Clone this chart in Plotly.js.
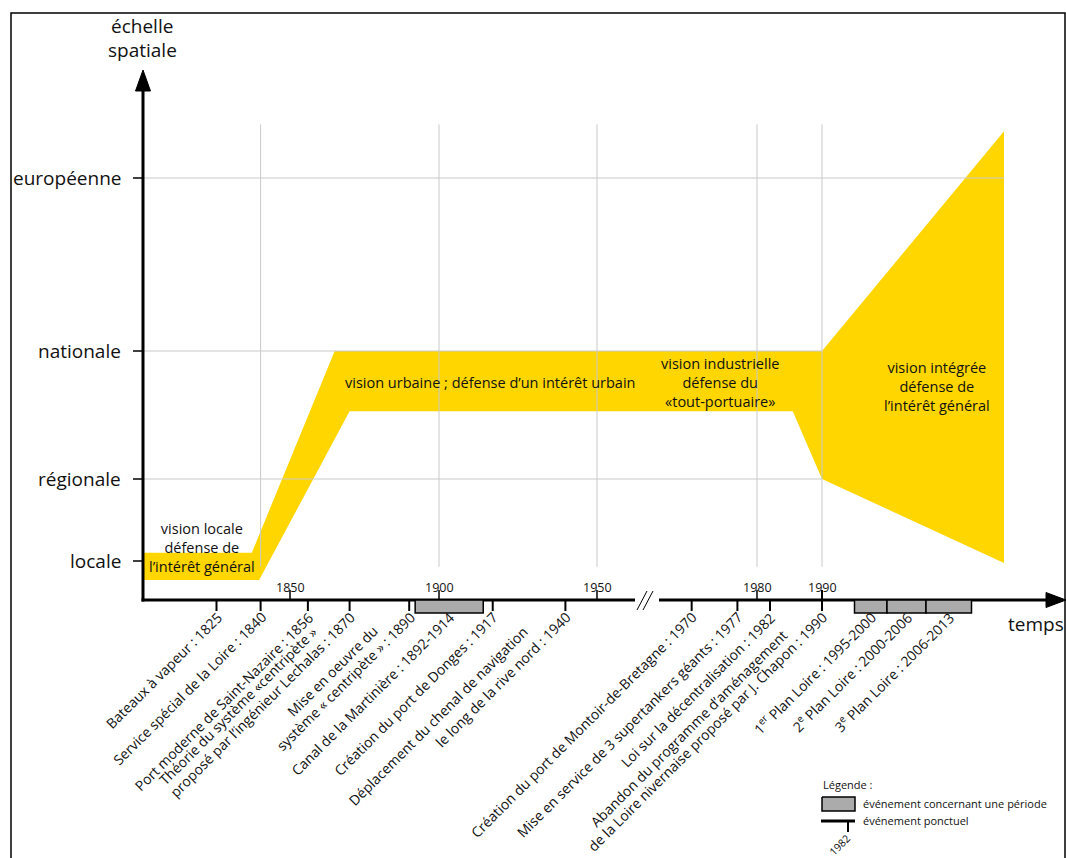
<!DOCTYPE html>
<html>
<head>
<meta charset="utf-8">
<script src="https://cdn.plot.ly/plotly-3.0.1.min.js"></script>
<style>
html,body{margin:0;padding:0;background:#fff;}
#chart{width:1066px;height:858px;}
</style>
</head>
<body>
<div id="chart"></div>
<script>
// ---------------- DATA ----------------
const levelNames = ["locale", "régionale", "nationale", "européenne"];
const levelValues = [1, 2, 3, 4];

const axisYears = [1850, 1900, 1950, 1980, 1990];
const gridYears = [1840, 1900, 1950, 1980, 1990];

// vision band outline (year, spatial level)
const bandYears  = [1800, 1837, 1865, 1990, 2018, 2018, 1990, 1985.5, 1870, 1839.5, 1800];
const bandLevels = [1.1, 1.1, 3.0, 3.0, 4.27, 0.95, 2.0, 2.53, 2.53, 0.51, 0.51];

const bandTexts = [
  "vision locale<br>défense de<br>l’intérêt général",
  "vision urbaine ; défense d’un intérêt urbain",
  "vision industrielle<br>défense du<br>«tout-portuaire»",
  "vision intégrée<br>défense de<br>l’intérêt général"
];

// point events
const eventYears = [1825, 1840, 1856, 1870, 1890, 1917, 1940, 1970, 1977, 1982, 1990];
const eventLabels = [
  ["Bateaux à vapeur : 1825"],
  ["Service spécial de la Loire : 1840"],
  ["Port moderne de Saint-Nazaire : 1856"],
  ["Théorie du système «centripète »", "proposé par l’ingénieur Lechalas : 1870"],
  ["Mise en oeuvre du", "système « centripète » : 1890"],
  ["Création du port de Donges : 1917"],
  ["Déplacement du chenal de navigation", "le long de la rive nord : 1940"],
  ["Création du port de Montoir-de-Bretagne : 1970"],
  ["Mise en service de 3 supertankers géants : 1977"],
  ["Loi sur la décentralisation : 1982"],
  ["Abandon du programme d’aménagement", "de la Loire nivernaise proposé par J. Chapon : 1990"]
];

// period events
const periodStart = [1892, 1995, 2000, 2006];
const periodEnd   = [1914, 2000, 2006, 2013];
const periodLabels = [
  ["Canal de la Martinière : 1892-1914"],
  ["1<sup>er</sup> Plan Loire : 1995-2000"],
  ["2<sup>e</sup> Plan Loire : 2000-2006"],
  ["3<sup>e</sup> Plan Loire : 2006-2013"]
];

// ---------------- SCALES (schematic, piecewise linear) ----------------
const timeKnots  = [[1800,143],[1850,290],[1900,439],[1950,597],[1962,635],[1965,659],[1980,757],[1990,822],[2020,1017]];
const levelKnots = [[0,600],[1,561],[2,479],[3,351],[4,178]];
function interp(k, v){
  let i = 0;
  if (v <= k[0][0]) i = 0;
  else if (v >= k[k.length-1][0]) i = k.length-2;
  else { while (!(v >= k[i][0] && v <= k[i+1][0])) i++; }
  const a = k[i], b = k[i+1];
  return a[1] + (v - a[0]) * (b[1] - a[1]) / (b[0] - a[0]);
}
const tx = y => interp(timeKnots, y);
const ty = l => interp(levelKnots, l);

// ---------------- STYLE ----------------
const FONT = "Open Sans, Noto Sans, sans-serif";
const YELLOW = "#FFD600";
const GRID = "#c9c9c9";
const BOX = "#ababab";
const INK = "#111111";

const traces = [];
const annotations = [];
const shapes = [];

function seg(xs, ys, color, width){
  traces.push({type:"scatter", mode:"lines", x:xs, y:ys, line:{color:color, width:width}, hoverinfo:"skip"});
}
function poly(xs, ys, fill, lineColor, lineWidth){
  traces.push({type:"scatter", mode:"lines", x:xs, y:ys, fill:"toself", fillcolor:fill,
    line:{color:lineColor || fill, width:lineWidth || 0}, hoverinfo:"skip"});
}
function text(x, y, t, size, opts){
  annotations.push(Object.assign({xref:"x", yref:"y", x:x, y:y, text:t, showarrow:false,
    font:{family:FONT, size:size, color:INK}}, opts || {}));
}

// band
poly(bandYears.map(tx), bandLevels.map(ty), YELLOW);

// grid lines (drawn over the band)
gridYears.forEach(yr => seg([tx(yr), tx(yr)], [ty(0.85), ty(4.31)], GRID, 1));
const gridLevelEnds = {2:1990, 3:1990, 4:2018};
[2,3,4].forEach(l => seg([tx(1800), tx(gridLevelEnds[l])], [ty(l), ty(l)], GRID, 1));

// axes
const x0 = tx(1800), y0 = ty(0);
seg([x0, x0], [y0 + 1.5, 88], "#000", 3);                 // vertical axis
poly([x0 - 7.5, x0, x0 + 7.5, x0 - 7.5], [91, 70, 91, 91], "#000", "#000", 1);
seg([x0 - 1.5, tx(1962)], [y0, y0], "#000", 3);           // time axis, before break
seg([tx(1965), 1048], [y0, y0], "#000", 3);               // time axis, after break
poly([1046, 1066, 1046, 1046], [592.5, 600, 607.5, 592.5], "#000", "#000", 1);
// break marks
seg([tx(1962) + 2, tx(1962) + 12], [610, 591], "#000", 1);
seg([tx(1962) + 8, tx(1962) + 18], [610, 591], "#000", 1);

// level ticks & labels
levelValues.forEach((l, i) => {
  seg([x0 - 10, x0], [ty(l), ty(l)], "#000", 1.5);
  text(x0 - 20, ty(l), levelNames[i], 19, {xanchor:"right", yanchor:"middle"});
});
text(x0 - 1, 26, "échelle", 19, {xanchor:"center", yanchor:"middle"});
text(x0 - 1, 50, "spatiale", 19, {xanchor:"center", yanchor:"middle"});
text(1036, 624, "temps", 19, {xanchor:"center", yanchor:"middle"});

// axis year ticks (above)
axisYears.forEach(yr => {
  seg([tx(yr), tx(yr)], [y0, y0 - 10], "#000", 1.5);
  text(tx(yr), y0 - 13, String(yr), 12.5, {xanchor:"center", yanchor:"middle"});
});

// rotated event labels
const multiLine = {3:{along:-37, gap:16}, 4:{along:-35, gap:16}, 6:{along:-40, gap:20}, 10:{along:-41, gap:16}};
const S = Math.SQRT1_2;
function rotLabel(xEnd, lines, cfg){
  const n = lines.length;
  lines.forEach((ln, j) => {
    const above = n - 1 - j;               // lines above the last one
    const along = above > 0 ? cfg.along : 0;
    const gap = above > 0 ? cfg.gap * above : 0;
    const dx = S * along - S * gap;
    const dy = -S * along - S * gap;
    text(xEnd, y0 + 5, ln, 14, {xanchor:"right", yanchor:"top", textangle:-45,
      xshift: 12 + dx, yshift: -dy});
  });
}

// point events
eventYears.forEach((yr, i) => {
  const top = (yr === 1990) ? y0 - 10 : y0;
  seg([tx(yr), tx(yr)], [top, y0 + 11], "#000", 2);
  rotLabel(tx(yr), eventLabels[i], multiLine[i] || {});
});

// period events
periodStart.forEach((s, i) => {
  const a = tx(s), b = tx(periodEnd[i]);
  poly([a, b, b, a, a], [y0, y0, y0 + 13, y0 + 13, y0], BOX, "#000", 1.5);
  rotLabel((a + b) / 2, periodLabels[i], {});
});

// legend
text(821, 784, "Légende :", 11, {xanchor:"left", yanchor:"middle"});
poly([822, 855, 855, 822, 822], [797, 797, 811, 811, 797], BOX, "#000", 1.5);
text(861, 803, "événement concernant une période", 11, {xanchor:"left", yanchor:"middle"});
seg([821, 855], [821, 821], "#000", 3);
seg([848, 848], [821, 832], "#000", 2);
text(861, 820, "événement ponctuel", 11, {xanchor:"left", yanchor:"middle"});
text(848, 829, "1982", 10.5, {xanchor:"right", yanchor:"top", textangle:-45, xshift:8});

// band texts
text(202, 547, bandTexts[0], 14.5, {xanchor:"center", yanchor:"middle"});
text(490, 382, bandTexts[1], 14.5, {xanchor:"center", yanchor:"middle"});
text(720, 382, bandTexts[2], 14.5, {xanchor:"center", yanchor:"middle"});
text(937, 386, bandTexts[3], 14.5, {xanchor:"center", yanchor:"middle"});

// frame
shapes.push({type:"rect", xref:"x", yref:"y", x0:11, x1:1065, y0:13, y1:900, line:{color:"#000", width:1.5}, layer:"below"});

const layout = {
  width:1066, height:858,
  margin:{l:0, r:0, t:0, b:0, pad:0},
  paper_bgcolor:"#fff", plot_bgcolor:"#fff",
  showlegend:false,
  xaxis:{range:[0,1066], visible:false, fixedrange:true},
  yaxis:{range:[858,0], visible:false, fixedrange:true},
  annotations:annotations,
  shapes:shapes,
  font:{family:FONT}
};
Plotly.newPlot("chart", traces, layout, {displayModeBar:false, staticPlot:true});
</script>
</body>
</html>
